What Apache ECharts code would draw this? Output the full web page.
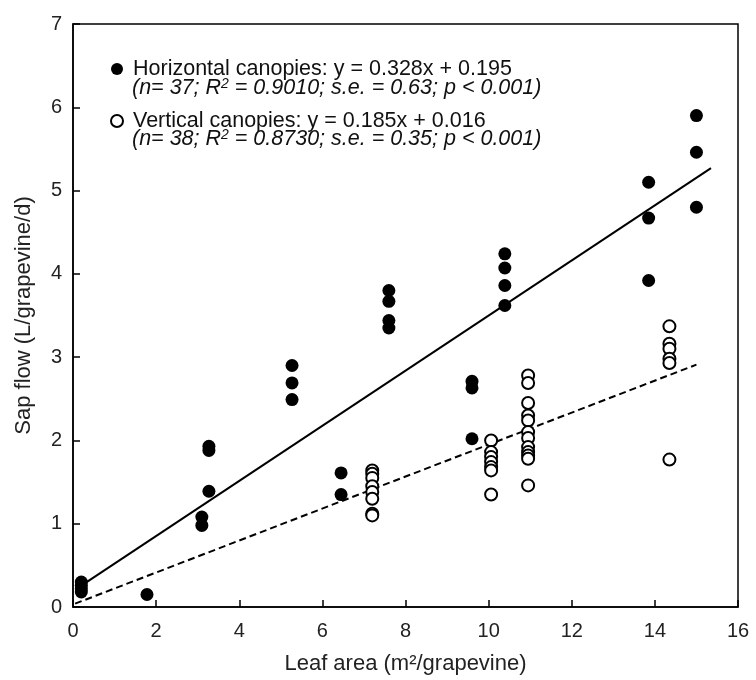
<!DOCTYPE html>
<html>
	<head>
		<meta charset="UTF-8">
		<title>Sap flow vs leaf area</title>
		<script src="https://cdn.jsdelivr.net/npm/echarts@6/dist/echarts.min.js" type="text/javascript" charset="utf-8"></script>
		<style>
			body { margin: 0; background: #fff; }
			#chart { width: 756px; height: 680px; }
		</style>
	</head>
	<body>
		<div id="chart"></div>
		<script type="text/javascript">
			// horizontal canopies (filled dots)
			var horizX = [0.2, 0.2, 0.2, 0.2, 1.78, 3.1, 3.1, 3.27, 3.27, 3.27, 5.27, 5.27, 5.27, 6.45, 6.45,
				7.6, 7.6, 7.6, 7.6, 9.6, 9.6, 9.6, 10.39, 10.39, 10.39, 10.39, 13.85, 13.85, 13.85, 15.0, 15.0, 15.0];
			var horizY = [0.18, 0.22, 0.26, 0.30, 0.15, 1.08, 0.98, 1.93, 1.88, 1.39, 2.90, 2.69, 2.49, 1.61, 1.35,
				3.80, 3.67, 3.44, 3.35, 2.71, 2.63, 2.02, 4.24, 4.07, 3.86, 3.62, 5.10, 4.67, 3.92, 5.90, 5.46, 4.80];
			// vertical canopies (open dots)
			var vertX = [7.2, 7.2, 7.2, 7.2, 7.2, 7.2, 7.2, 7.2,
				10.06, 10.06, 10.06, 10.06, 10.06, 10.06, 10.06,
				10.95, 10.95, 10.95, 10.95, 10.95, 10.95, 10.95, 10.95, 10.95, 10.95, 10.95, 10.95,
				14.35, 14.35, 14.35, 14.35, 14.35, 14.35];
			var vertY = [1.64, 1.60, 1.55, 1.45, 1.38, 1.30, 1.12, 1.10,
				2.00, 1.86, 1.80, 1.74, 1.68, 1.64, 1.35,
				2.78, 2.69, 2.45, 2.30, 2.24, 2.10, 2.03, 1.92, 1.86, 1.82, 1.78, 1.46,
				3.37, 3.16, 3.10, 2.98, 2.93, 1.77];

			// fitted lines as drawn (end points)
			var fitHx = [0.3, 15.35];
			var fitHy = [0.29, 5.27];
			var fitVx = [0.05, 15.0];
			var fitVy = [0.04, 2.91];

			var legendNames = ['Horizontal canopies: y = 0.328x + 0.195', 'Vertical canopies: y = 0.185x + 0.016'];
			var statLines = [
				'{i|(n= 37; R}{s|2}{i| = 0.9010; s.e. = 0.63; p < 0.001)}',
				'{i|(n= 38; R}{s|2}{i| = 0.8730; s.e. = 0.35; p < 0.001)}'
			];

			function pairs(xs, ys) {
				var out = [];
				for (var i = 0; i < xs.length; i++) out.push([xs[i], ys[i]]);
				return out;
			}

			var font = 'Liberation Sans, Arial, sans-serif';
			var statRich = {
				i: { fontFamily: font, fontSize: 21.5, fontStyle: 'italic', fill: '#111', lineHeight: 22 },
				s: { fontFamily: font, fontSize: 14, fontStyle: 'italic', fill: '#111', lineHeight: 22, verticalAlign: 'top', padding: [0, 0, 8, 0] }
			};
			var chart = echarts.init(document.getElementById('chart'));
			var option = {
				animation: false,
				backgroundColor: '#fff',
				grid: {
					left: 73, top: 24, width: 665, height: 583,
					show: true, borderColor: '#000', borderWidth: 1.5
				},
				xAxis: {
					type: 'value', min: 0, max: 16, interval: 2,
					name: 'Leaf area (m²/grapevine)',
					nameLocation: 'middle', nameGap: 46,
					nameTextStyle: { fontFamily: font, fontSize: 22, color: '#222' },
					axisLine: { lineStyle: { color: '#000', width: 1.5 } },
					axisTick: { inside: true, length: 7, lineStyle: { color: '#000', width: 1.5 } },
					axisLabel: { fontFamily: font, fontSize: 20, color: '#222', margin: 14 },
					splitLine: { show: false }
				},
				yAxis: {
					type: 'value', min: 0, max: 7, interval: 1,
					name: 'Sap flow (L/grapevine/d)',
					nameLocation: 'middle', nameGap: 38,
					nameTextStyle: { fontFamily: font, fontSize: 22, color: '#222' },
					axisLine: { lineStyle: { color: '#000', width: 1.5 } },
					axisTick: { inside: true, length: 7, lineStyle: { color: '#000', width: 1.5 } },
					axisLabel: { fontFamily: font, fontSize: 20, color: '#222', margin: 11 },
					splitLine: { show: false }
				},
				legend: {
					orient: 'vertical', left: 105, top: 53, itemGap: 30,
					itemWidth: 12, itemHeight: 12,
					formatter: function (name) { return '{t|' + name + '}'; },
					textStyle: {
						fontFamily: font, fontSize: 21.5, color: '#111',
						rich: { t: { fontFamily: font, fontSize: 21.5, color: '#111', padding: [0, 0, 0, 5] } }
					},
					data: [
						{ name: legendNames[0], icon: 'circle' },
						{ name: legendNames[1], icon: 'emptyCircle', itemStyle: { borderWidth: 1.5 } }
					]
				},
				graphic: [
					{ type: 'text', left: 132, top: 77, style: { text: statLines[0], rich: statRich } },
					{ type: 'text', left: 132, top: 128, style: { text: statLines[1], rich: statRich } }
				],
				series: [
					{
						name: legendNames[0],
						type: 'scatter', symbol: 'circle', symbolSize: 13,
						itemStyle: { color: '#000', opacity: 1 },
						data: pairs(horizX, horizY), z: 3
					},
					{
						name: legendNames[1],
						type: 'scatter', symbol: 'emptyCircle', symbolSize: 12,
						itemStyle: { color: '#000', borderColor: '#000', borderWidth: 1.8, opacity: 1 },
						data: pairs(vertX, vertY), z: 3
					},
					{
						name: 'fit-h', type: 'line', data: pairs(fitHx, fitHy),
						showSymbol: false, symbol: 'none', silent: true,
						lineStyle: { color: '#000', width: 2 }, z: 2
					},
					{
						name: 'fit-v', type: 'line', data: pairs(fitVx, fitVy),
						showSymbol: false, symbol: 'none', silent: true,
						lineStyle: { color: '#000', width: 2, type: [7, 4] }, z: 2
					}
				]
			};
			chart.setOption(option);
		</script>
	</body>
</html>
